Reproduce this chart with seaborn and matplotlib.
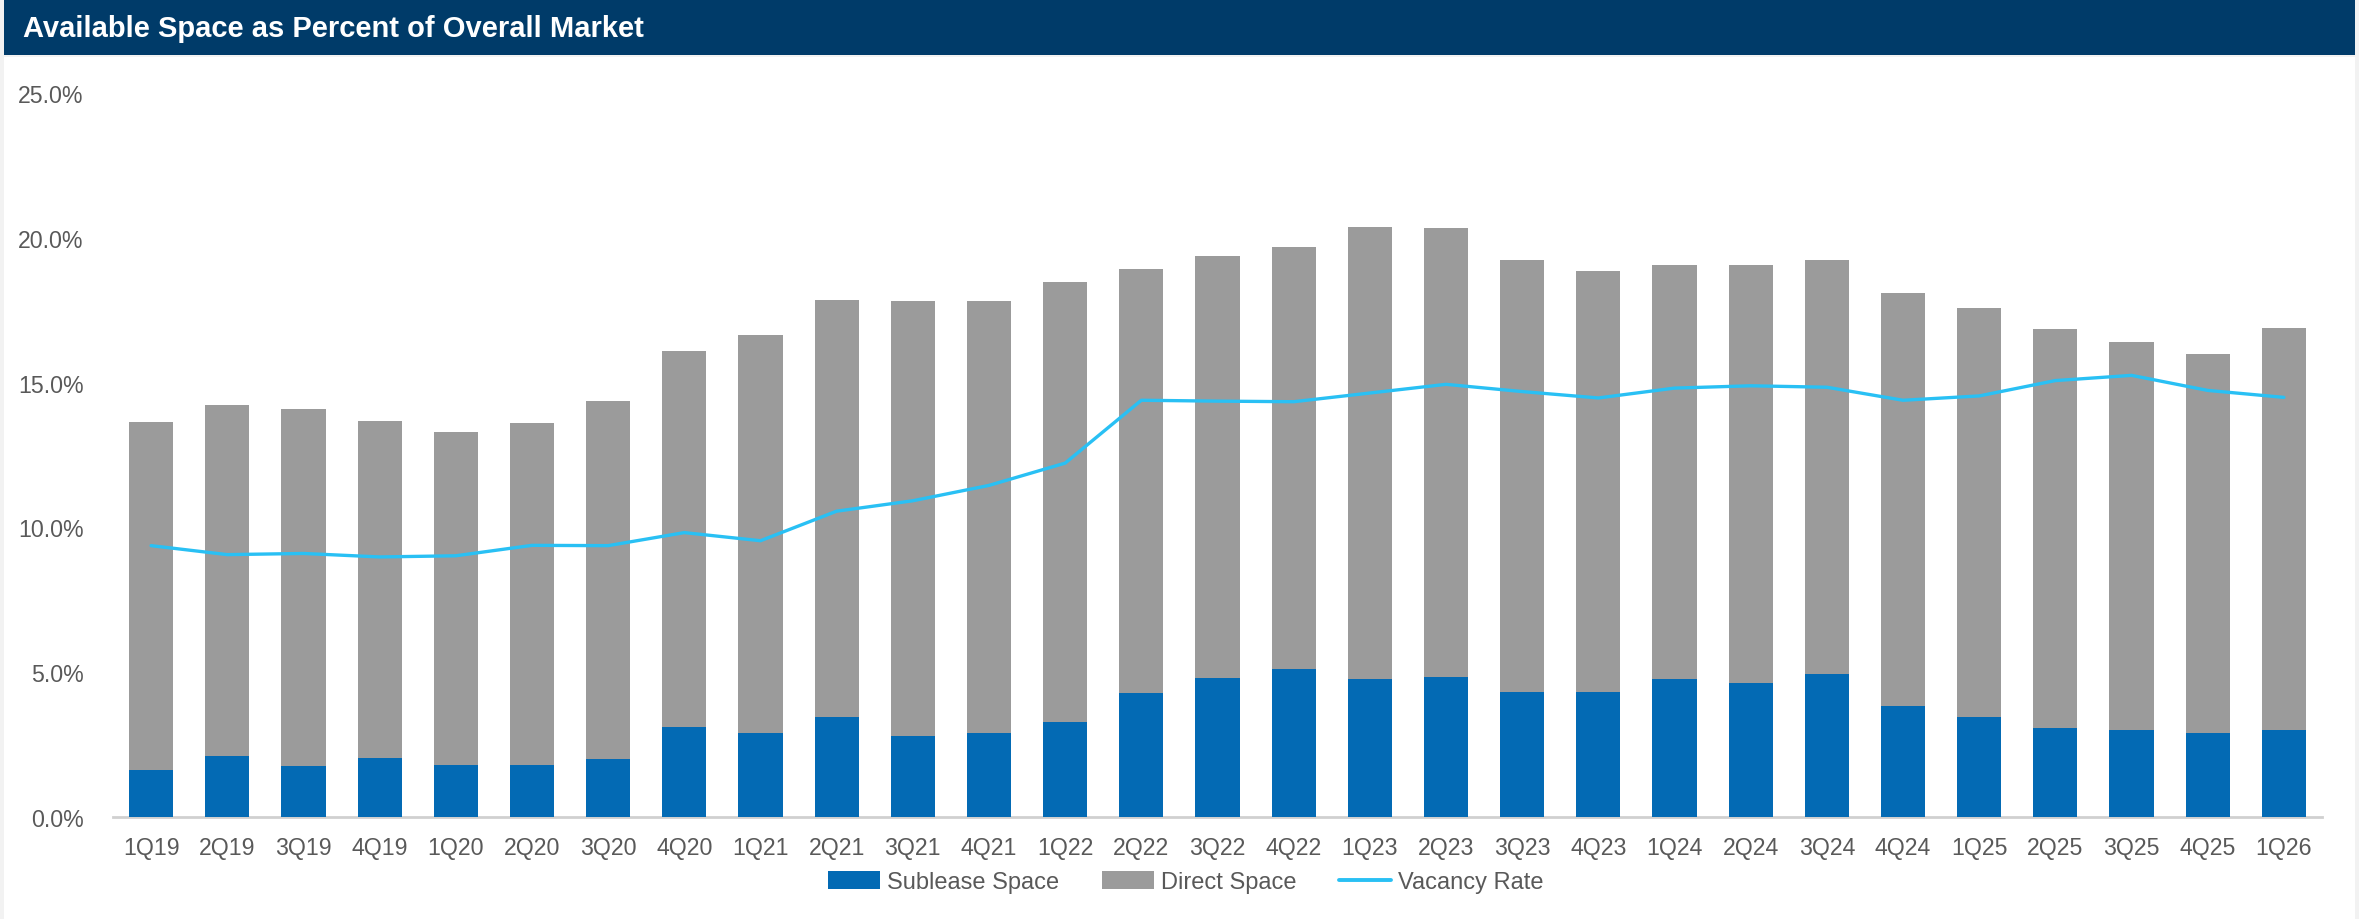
import numpy as np
import pandas as pd
import seaborn as sns
import matplotlib.pyplot as plt
from matplotlib.patches import Patch, Rectangle
from matplotlib.lines import Line2D

quarters = [
    "1Q19", "2Q19", "3Q19", "4Q19", "1Q20", "2Q20", "3Q20", "4Q20",
    "1Q21", "2Q21", "3Q21", "4Q21", "1Q22", "2Q22", "3Q22", "4Q22",
    "1Q23", "2Q23", "3Q23", "4Q23", "1Q24", "2Q24", "3Q24", "4Q24",
    "1Q25", "2Q25", "3Q25", "4Q25", "1Q26",
]
# percent of overall market
sublease = [
    1.63, 2.11, 1.77, 2.04, 1.81, 1.81, 2.00, 3.10,
    2.91, 3.46, 2.79, 2.91, 3.27, 4.29, 4.81, 5.12,
    4.78, 4.85, 4.33, 4.32, 4.75, 4.63, 4.93, 3.85,
    3.47, 3.09, 3.02, 2.91, 3.02,
]
direct = [
    12.01, 12.11, 12.32, 11.65, 11.48, 11.81, 12.35, 12.98,
    13.72, 14.38, 15.03, 14.90, 15.20, 14.62, 14.55, 14.56,
    15.58, 15.49, 14.89, 14.53, 14.31, 14.43, 14.30, 14.23,
    14.11, 13.76, 13.37, 13.08, 13.85,
]
vacancy = [
    9.37, 9.06, 9.10, 8.98, 9.02, 9.38, 9.37, 9.82,
    9.54, 10.56, 10.92, 11.45, 12.22, 14.39, 14.36, 14.34,
    14.64, 14.94, 14.69, 14.47, 14.81, 14.89, 14.84, 14.39,
    14.54, 15.07, 15.25, 14.73, 14.49,
]

NAVY = "#003B69"
BLUE = "#036AB4"
GRAY = "#9B9B9B"
LINE = "#29C0F4"
TEXT = "#595959"

df = pd.DataFrame({"quarter": quarters, "sublease": sublease, "direct": direct, "vacancy": vacancy})
df["total"] = df["sublease"] + df["direct"]

sns.set_theme(style="white")
plt.rcParams["font.family"] = ["Liberation Sans", "DejaVu Sans"]

W, H = 2359, 920
fig = plt.figure(figsize=(W / 100, H / 100), dpi=100, facecolor="#f2f2f2")

# white panel and title banner (behind the axes)
fig.patches.append(Rectangle((4 / W, 0), 2351 / W, 1 - 58 / H, transform=fig.transFigure,
                             facecolor="white", edgecolor="none", zorder=-2))
fig.patches.append(Rectangle((4 / W, 1 - 56 / H), 2351 / W, 55 / H, transform=fig.transFigure,
                             facecolor=NAVY, edgecolor="none", zorder=-1))
fig.text(23 / W, 1 - 29 / H, "Available Space as Percent of Overall Market", color="white",
         fontsize=21, fontweight="bold", va="center", ha="left")

ax = fig.add_axes([113 / W, 1 - 818 / H, (2322 - 113) / W, (818 - 94) / H])
ax.set_facecolor("none")

# stacked bars: total (direct on top) then sublease at bottom
sns.barplot(data=df, x="quarter", y="total", color=GRAY, saturation=1, width=0.58,
            linewidth=0, ax=ax, zorder=2)
sns.barplot(data=df, x="quarter", y="sublease", color=BLUE, saturation=1, width=0.58,
            linewidth=0, ax=ax, zorder=3)
sns.lineplot(x=np.arange(len(quarters)), y=df["vacancy"], color=LINE, linewidth=2.4,
             ax=ax, zorder=4)

ax.set_xlim(-0.5, len(quarters) - 0.5)
ax.set_ylim(0, 25)
ax.set_yticks(np.arange(0, 26, 5))
ax.set_yticklabels([f"{v:.1f}%" for v in np.arange(0, 26, 5)])
ax.set_xlabel("")
ax.set_ylabel("")
ax.tick_params(axis="both", length=0, labelsize=16.7, labelcolor=TEXT)
ax.tick_params(axis="y", pad=21)
ax.tick_params(axis="x", pad=14)
for side in ["left", "right", "top"]:
    ax.spines[side].set_visible(False)
ax.spines["bottom"].set_color("#d0d0d0")
ax.spines["bottom"].set_linewidth(2)
ax.grid(False)

handles = [
    Patch(facecolor=BLUE, edgecolor="none", label="Sublease Space"),
    Patch(facecolor=GRAY, edgecolor="none", label="Direct Space"),
    Line2D([0], [0], color=LINE, linewidth=2.8, label="Vacancy Rate"),
]
fig.legend(handles=handles, loc="center", bbox_to_anchor=(1186 / W, 1 - 883 / H), ncol=3,
           frameon=False, fontsize=17, labelcolor=TEXT, handlelength=2.2,
           handleheight=0.8, handletextpad=0.3, columnspacing=1.8)

fig.savefig("out.png", dpi=100, facecolor=fig.get_facecolor())
